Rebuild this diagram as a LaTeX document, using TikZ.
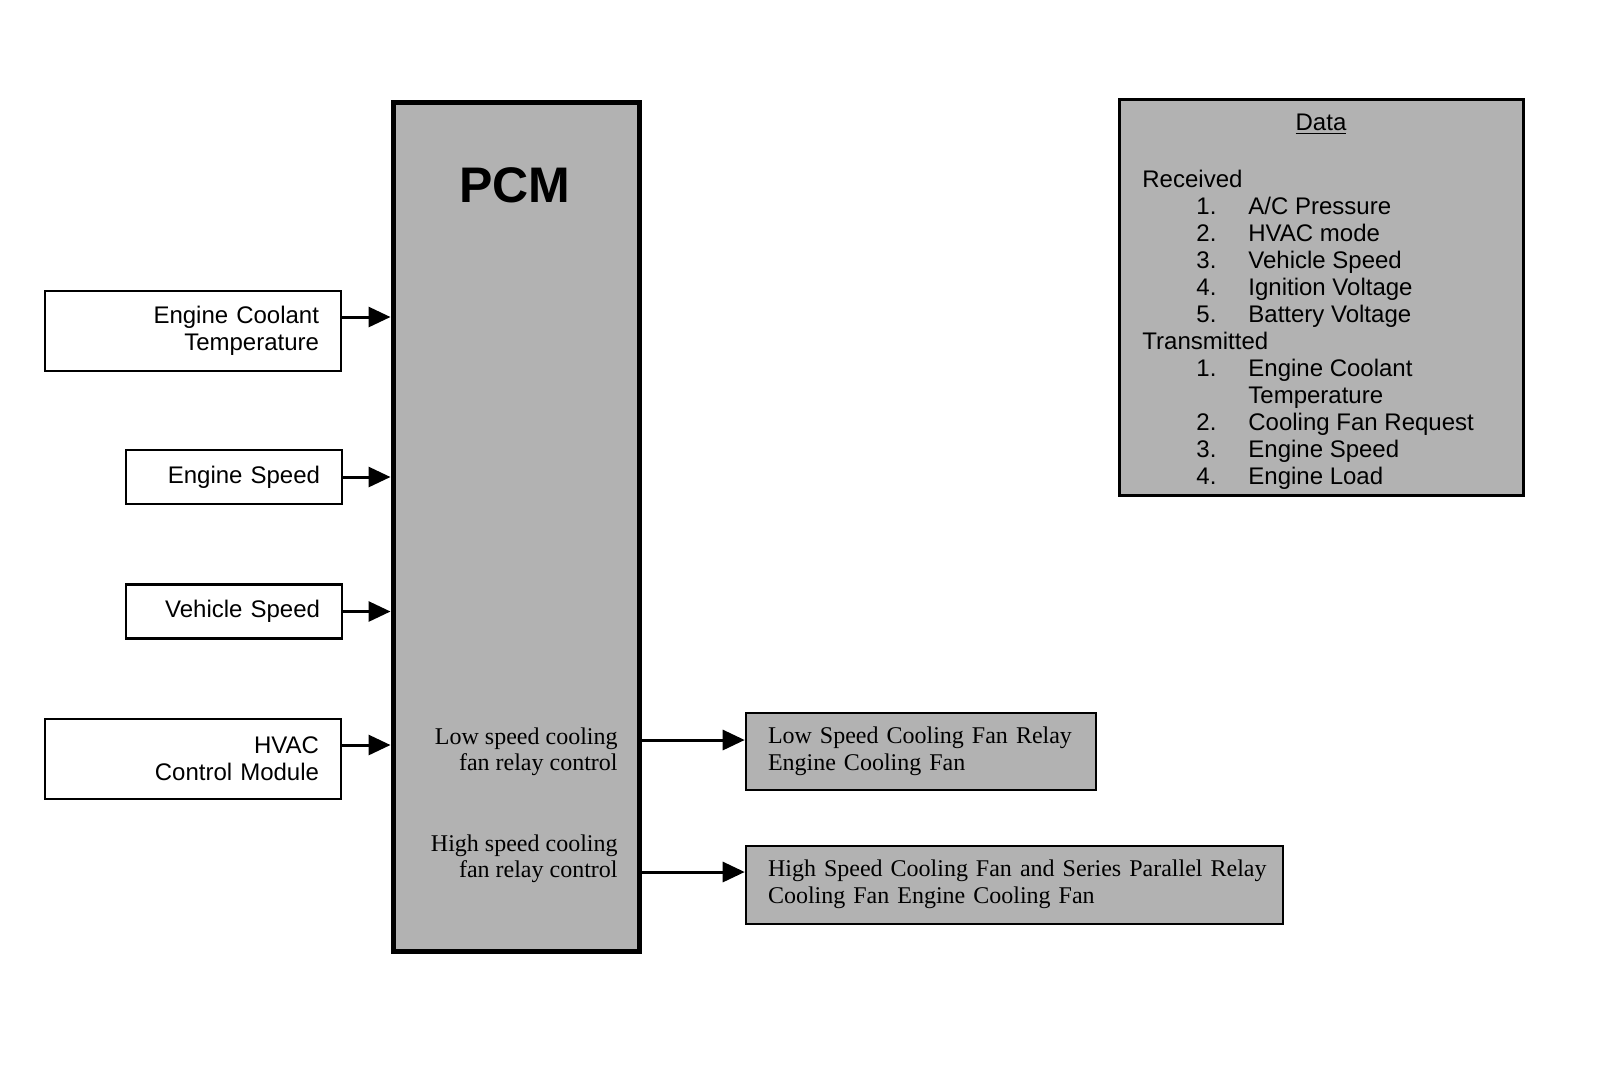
\documentclass[tikz,border=0pt]{standalone}
\usepackage{fontspec}
\setmainfont{Liberation Serif}
\setsansfont{Liberation Sans}
\usetikzlibrary{arrows.meta}
\definecolor{dither}{gray}{0.7}
\tikzset{
  inbox/.style={draw, line width=1.2pt, fill=white, align=right, inner xsep=11pt, inner ysep=0pt,
    font=\sffamily\fontsize{12}{13.5}\selectfont},
  outbox/.style={draw, line width=1.3pt, fill=dither, align=left, inner xsep=11pt, inner ysep=0pt,
    font=\rmfamily\fontsize{12}{13.5}\selectfont},
  ctl/.style={align=right, inner sep=0pt, font=\rmfamily\fontsize{12}{13}\selectfont},
  conn/.style={line width=1.5pt, -{Triangle[length=11pt,width=10pt]}}
}
\begin{document}
\begin{tikzpicture}[x=0.5pt,y=-0.5pt]
\useasboundingbox (0,0) rectangle (1600,1084);
% PCM
\node[draw, line width=2.5pt, fill=dither, minimum width=246*0.5pt, minimum height=849*0.5pt, inner sep=0pt] (pcm) at (516,526.5) {};
\node[font=\sffamily\bfseries\fontsize{25}{28}\selectfont, inner sep=0pt] (pcmt) at (515,185) {PCM};
% inputs
\node[inbox, text width=126pt, minimum height=40pt] (ect) at (193,331) {Engine Coolant\\Temperature};
\node[inbox, text width=86pt, minimum height=27pt] (es) at (234,477) {Engine Speed};
\node[inbox, text width=86pt, minimum height=27pt] (vs) at (234,611.5) {Vehicle Speed};
\node[inbox, text width=126pt, minimum height=40pt] (hvac) at (193,759) {HVAC\\Control Module};
\draw[conn] (ect.east |- 0,317) -- (pcm.west |- 0,317);
\draw[conn] (es.east) -- (es.east -| pcm.west);
\draw[conn] (vs.east) -- (vs.east -| pcm.west);
\draw[conn] (hvac.east |- 0,745) -- (pcm.west |- 0,745);
% control labels
\node[ctl, anchor=east] (lowc) at (618,752) {Low speed cooling\\fan relay control};
\node[ctl, anchor=east] (highc) at (618,859) {High speed cooling\\fan relay control};
% outputs
\node[outbox, text width=153pt, minimum height=38.5pt] (low) at (921,751.5)
  {\begin{tabular}{@{}l@{}}Low Speed Cooling Fan Relay\\Engine Cooling Fan\end{tabular}};
\node[outbox, text width=246.5pt, minimum height=39pt] (high) at (1014.5,885)
  {\begin{tabular}{@{}l@{}}High Speed Cooling Fan and Series Parallel Relay\\Cooling Fan Engine Cooling Fan\end{tabular}};
\draw[conn] (pcm.east |- 0,740) -- (low.west |- 0,740);
\draw[conn] (pcm.east |- 0,872) -- (high.west |- 0,872);
% data box
\node[draw, line width=1.5pt, fill=dither, minimum width=404*0.5pt, minimum height=396*0.5pt, inner sep=0pt] (data) at (1321,297) {};
\node[font=\sffamily\fontsize{12}{13.5}\selectfont, inner sep=0pt] (datat) at (1321,124) {\underline{Data}};
\node[anchor=north west, inner sep=0pt, font=\sffamily\fontsize{12}{13.5}\selectfont] (datal) at (1142,168) {%
\begin{tabular}{@{}p{27pt}@{}p{26pt}@{}l@{}}
\multicolumn{3}{@{}l@{}}{Received}\\
& 1. & A/C Pressure\\
& 2. & HVAC mode\\
& 3. & Vehicle Speed\\
& 4. & Ignition Voltage\\
& 5. & Battery Voltage\\
\multicolumn{3}{@{}l@{}}{Transmitted}\\
& 1. & Engine Coolant\\
&    & Temperature\\
& 2. & Cooling Fan Request\\
& 3. & Engine Speed\\
& 4. & Engine Load
\end{tabular}};
\end{tikzpicture}
\end{document}
